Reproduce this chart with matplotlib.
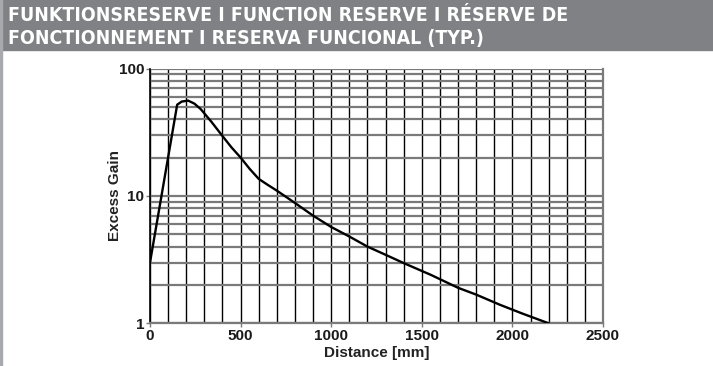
import matplotlib
matplotlib.use("Agg")
import matplotlib.pyplot as plt
from matplotlib import font_manager
from matplotlib.ticker import FixedLocator, NullFormatter, LogLocator

distance_mm = [0, 150, 175, 210, 245, 280, 340, 400, 450, 500, 550, 600, 650,
               700, 800, 900, 1000, 1100, 1200, 1300, 1400, 1550, 1700, 1800, 1930, 2050, 2200]
excess_gain = [3.0, 52, 55, 56, 53, 48, 38, 29.5, 24, 20, 16.3, 13.6, 12.2,
               11.0, 8.8, 7.0, 5.7, 4.8, 4.0, 3.45, 2.97, 2.4, 1.9, 1.68, 1.4, 1.2, 1.0]
x_ticks = [0, 500, 1000, 1500, 2000, 2500]
y_ticks = [1, 10, 100]
title_lines = ["FUNKTIONSRESERVE I FUNCTION RESERVE I RÉSERVE DE",
               "FONCTIONNEMENT I RESERVA FUNCIONAL (TYP.)"]
x_label = "Distance [mm]"
y_label = "Excess Gain"

fonts = font_manager.fontManager.ttflist
def wnum(w):
    if isinstance(w, (int, float)):
        return w
    return font_manager.weight_dict.get(str(w), 400)
narrow_bold = [f for f in fonts if ('Narrow' in f.name or 'Condensed' in f.name
               or str(f.stretch) in ('condensed', 'semi-condensed'))
               and wnum(f.weight) >= 600]
if narrow_bold:
    nb = narrow_bold[0]
    title_font = dict(family=[nb.name, 'DejaVu Sans'], fontstretch=nb.stretch)
else:
    title_font = dict(family=['Liberation Sans', 'DejaVu Sans'])

plt.rcParams['font.family'] = ['Liberation Sans', 'DejaVu Sans']

fig = plt.figure(figsize=(7.13, 3.66), dpi=100)
# banner
fig.patches.append(plt.Rectangle((0, 1 - 49.5/366), 1, 49.5/366, transform=fig.transFigure,
                                 color="#808184", zorder=0))
fig.patches.append(plt.Rectangle((0, 0), 2/713, 1, transform=fig.transFigure,
                                 color="#a7a9ac", zorder=0))
t1 = fig.text(8/713, 1 - 21/366, title_lines[0], color="white", fontweight="bold",
              va="baseline", ha="left", fontsize=14, **title_font)
t2 = fig.text(8/713, 1 - 44/366, title_lines[1], color="white", fontweight="bold",
              va="baseline", ha="left", fontsize=14, **title_font)
renderer = fig.canvas.get_renderer()
w = t1.get_window_extent(renderer).width
fs = min(17.0, 14 * 559.0 / w)
t1.set_fontsize(fs)
t2.set_fontsize(fs)

ax = fig.add_axes([150/713, (366-323.3)/366, 453/713, (323.3-68.5)/366])
ax.set_yscale("log")
ax.set_xlim(0, 2500)
ax.set_ylim(1, 100)

ax.xaxis.set_major_locator(FixedLocator(x_ticks))
ax.xaxis.set_minor_locator(FixedLocator(list(range(0, 2501, 100))))
ax.yaxis.set_major_locator(FixedLocator(y_ticks))
ax.yaxis.set_minor_locator(LogLocator(base=10, subs=range(2, 10)))
ax.yaxis.set_minor_formatter(NullFormatter())
ax.set_xticklabels([str(t) for t in x_ticks])
ax.set_yticklabels([str(t) for t in y_ticks])

ax.grid(True, which="both", axis="x", color="black", lw=1.0)
ax.grid(True, which="both", axis="y", color="#7a7a7a", lw=1.6)
ax.set_axisbelow(True)

ax.plot(distance_mm, excess_gain, color="black", lw=1.7, solid_joinstyle="round", zorder=3)

ax.spines["top"].set_visible(False)
ax.spines["right"].set_color("#7a7a7a")
ax.spines["right"].set_linewidth(1.6)
ax.spines["bottom"].set_color("#7a7a7a")
ax.spines["bottom"].set_linewidth(1.6)
ax.spines["left"].set_color("black")
ax.spines["left"].set_linewidth(1.2)

ax.tick_params(which="minor", length=0)
ax.tick_params(which="major", length=3, color="#7a7a7a", width=1, pad=1)
for lbl in ax.get_xticklabels() + ax.get_yticklabels():
    lbl.set_fontweight("bold")
    lbl.set_fontsize(11)
    lbl.set_color("#1a1a1a")
ax.set_xlabel(x_label, fontsize=11, fontweight="bold", color="#222222", labelpad=2)
ax.set_ylabel(y_label, fontsize=11, fontweight="bold", color="#222222", labelpad=-2)

fig.savefig("out.png", dpi=100)
